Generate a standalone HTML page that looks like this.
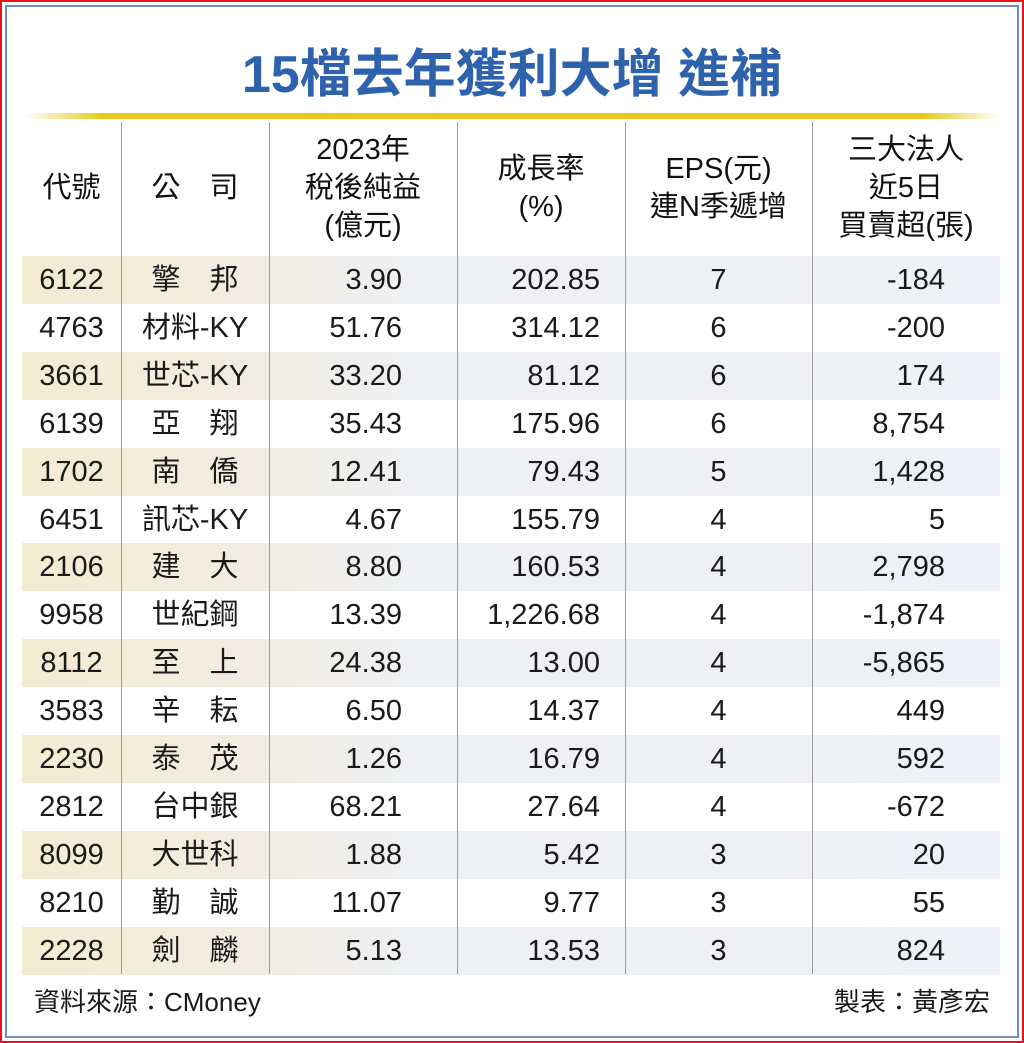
<!DOCTYPE html>
<html><head><meta charset="utf-8">
<style>
*{margin:0;padding:0;box-sizing:border-box}
body{width:1024px;height:1043px;background:#fff;position:relative;overflow:hidden;font-family:"Liberation Sans","Noto Sans CJK TC",sans-serif;color:#1a1a1a}
.frame-red{position:absolute;left:0;top:0;width:1024px;height:1043px;border:2px solid #e8141c}
.frame-blue{position:absolute;left:5px;top:5px;width:1014px;height:1033px;border:2px solid #6f8fc4}
.title{position:absolute;left:0;width:1024px;top:32px;text-align:center;font-size:52px;font-weight:bold;color:#2e62ad}
.gold{position:absolute;left:25px;top:113px;width:975px;height:6px;background:linear-gradient(90deg,#fff 0%,#e8c81e 8%,#e8c81e 92%,#fff 100%)}
.vline{position:absolute;top:122px;height:852px;width:1px;background:#9a9a9a}
.hdr{position:absolute;top:122px;height:132px;display:flex;align-items:center;justify-content:center;text-align:center;font-size:29px;line-height:38px;color:#111}
.row{position:absolute;left:22px;width:978px;height:48px}
.row.shade{background:linear-gradient(90deg,#f4ebd2 0%,#f1ece0 22%,#eef0f3 40%,#eef1f5 100%)}
.c{position:absolute;top:0;height:48px;line-height:48px;font-size:29px}
.foot{position:absolute;top:982px;font-size:26px}
</style></head><body>
<div class="frame-red"></div>
<div class="frame-blue"></div>
<div class="title">15檔去年獲利大增 進補</div>
<div class="gold"></div>
<div id="rows"></div>
<div class="vline" style="left:121px"></div>
<div class="vline" style="left:269px"></div>
<div class="vline" style="left:457px"></div>
<div class="vline" style="left:625px"></div>
<div class="vline" style="left:812px"></div>
<div class="hdr" style="left:22px;width:99px">代號</div>
<div class="hdr" style="left:121px;width:148px">公&emsp;司</div>
<div class="hdr" style="left:269px;width:188px">2023年<br>稅後純益<br>(億元)</div>
<div class="hdr" style="left:457px;width:168px">成長率<br>(%)</div>
<div class="hdr" style="left:625px;width:187px">EPS(元)<br>連N季遞增</div>
<div class="hdr" style="left:812px;width:188px">三大法人<br>近5日<br>買賣超(張)</div>
<div class="foot" style="left:34px">資料來源：CMoney</div>
<div class="foot" style="right:34px">製表：黃彥宏</div>
<script>
const codes=["6122","4763","3661","6139","1702","6451","2106","9958","8112","3583","2230","2812","8099","8210","2228"];
const companies=["擎　邦","材料-KY","世芯-KY","亞　翔","南　僑","訊芯-KY","建　大","世紀鋼","至　上","辛　耘","泰　茂","台中銀","大世科","勤　誠","劍　麟"];
const profits=["3.90","51.76","33.20","35.43","12.41","4.67","8.80","13.39","24.38","6.50","1.26","68.21","1.88","11.07","5.13"];
const growth=["202.85","314.12","81.12","175.96","79.43","155.79","160.53","1,226.68","13.00","14.37","16.79","27.64","5.42","9.77","13.53"];
const eps=["7","6","6","6","5","4","4","4","4","4","4","4","3","3","3"];
const netBuy=["-184","-200","174","8,754","1,428","5","2,798","-1,874","-5,865","449","592","-672","20","55","824"];
const host=document.getElementById('rows');
const top0=256,rh=47.9;
codes.forEach((code,i)=>{
  const r=document.createElement('div');
  r.className='row'+(i%2===0?' shade':'');
  r.style.top=(top0+i*rh)+'px';
  
  
  const cells=[
    [code,'left:0;width:99px;text-align:center','cell-code'],
    [companies[i],'left:99px;width:148px;text-align:center','cell-company'],
    [profits[i],'left:247px;width:133px;text-align:right','cell-profit'],
    [growth[i],'left:435px;width:143px;text-align:right','cell-growth'],
    [eps[i],'left:603px;width:187px;text-align:center','cell-eps'],
    [netBuy[i],'left:790px;width:133px;text-align:right','cell-net-buy']
  ];
  cells.forEach(([t,s,n])=>{
    const c=document.createElement('div');
    c.className='c';c.style.cssText=s;c.textContent=t;
    
    
    r.appendChild(c);
  });
  host.appendChild(r);
});
</script>
</body></html>
